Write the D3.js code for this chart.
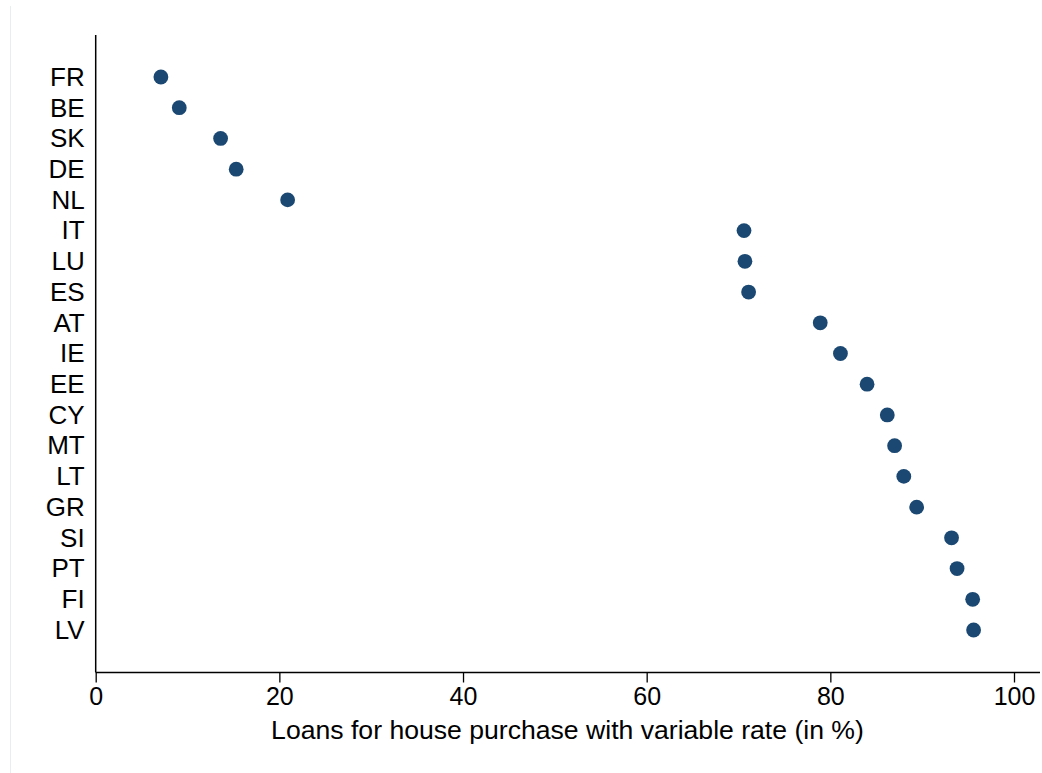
<!DOCTYPE html>
<html>
<head>
<meta charset="utf-8">
<script src="https://cdn.jsdelivr.net/npm/d3@7"></script>
<style>
  html, body { margin: 0; padding: 0; background: #fff; }
  svg { display: block; font-family: "Liberation Sans", Arial, sans-serif; }
</style>
</head>
<body>
<svg id="chart" width="1042" height="773"></svg>
<script>
// Country codes, top to bottom
const countries = ["FR","BE","SK","DE","NL","IT","LU","ES","AT","IE","EE","CY","MT","LT","GR","SI","PT","FI","LV"];
// Share of loans for house purchase with variable rate (%)
const variableShare = [7.1, 9.1, 13.6, 15.3, 20.9, 70.6, 70.7, 71.1, 78.9, 81.1, 84.0, 86.2, 87.0, 88.0, 89.4, 93.2, 93.8, 95.5, 95.6];
const xTicks = [0, 20, 40, 60, 80, 100];
const xTitle = "Loans for house purchase with variable rate (in %)";

const data = countries.map((c, i) => ({ country: c, value: variableShare[i] }));

const svg = d3.select("#chart");
const W = 1042, H = 773;

// faint frame line at the left edge
svg.append("line")
  .attr("x1", 10.5).attr("x2", 10.5).attr("y1", 6).attr("y2", H)
  .attr("stroke", "#e6eeee").attr("stroke-width", 1);

const plotLeft = 95.7, plotRight = 1040, plotTop = 35, plotBottom = 672.5;

const x = d3.scaleLinear().domain([0, 100]).range([plotLeft, 1014]);
const y = d3.scalePoint().domain(countries).range([77, 630]);

// x axis
const xAxis = d3.axisBottom(x).tickValues(xTicks).tickSize(10).tickPadding(5).tickFormat(d3.format("d"));
const gx = svg.append("g").attr("transform", `translate(0,${plotBottom})`).call(xAxis);
gx.select(".domain").remove();
gx.append("line").attr("x1", plotLeft).attr("x2", plotRight).attr("y1", 0).attr("y2", 0)
  .attr("stroke", "#000").attr("stroke-width", 1.5);
gx.selectAll(".tick line").attr("stroke", "#000").attr("stroke-width", 1.3);
gx.selectAll(".tick text").attr("fill", "#000").style("font-size", "25px")
  .style("font-family", "'Liberation Sans', Arial, sans-serif");

// y axis
const yAxis = d3.axisLeft(y).tickSize(0).tickPadding(11);
const gy = svg.append("g").attr("transform", `translate(${plotLeft},0)`).call(yAxis);
gy.select(".domain").remove();
gy.append("line").attr("x1", 0).attr("x2", 0).attr("y1", plotTop).attr("y2", plotBottom)
  .attr("stroke", "#000").attr("stroke-width", 1.5);
gy.selectAll(".tick text").attr("fill", "#000").style("font-size", "26px")
  .style("font-family", "'Liberation Sans', Arial, sans-serif");

// axis title
svg.append("text")
  .attr("x", (270 + 865) / 2).attr("y", 739)
  .attr("text-anchor", "middle")
  .style("font-size", "26.6px")
  .attr("fill", "#000")
  .text(xTitle);

// dots
svg.append("g").selectAll("circle")
  .data(data)
  .join("circle")
  .attr("cx", d => x(d.value))
  .attr("cy", d => y(d.country))
  .attr("r", 7.4)
  .attr("fill", "#1a4872");
</script>
</body>
</html>
